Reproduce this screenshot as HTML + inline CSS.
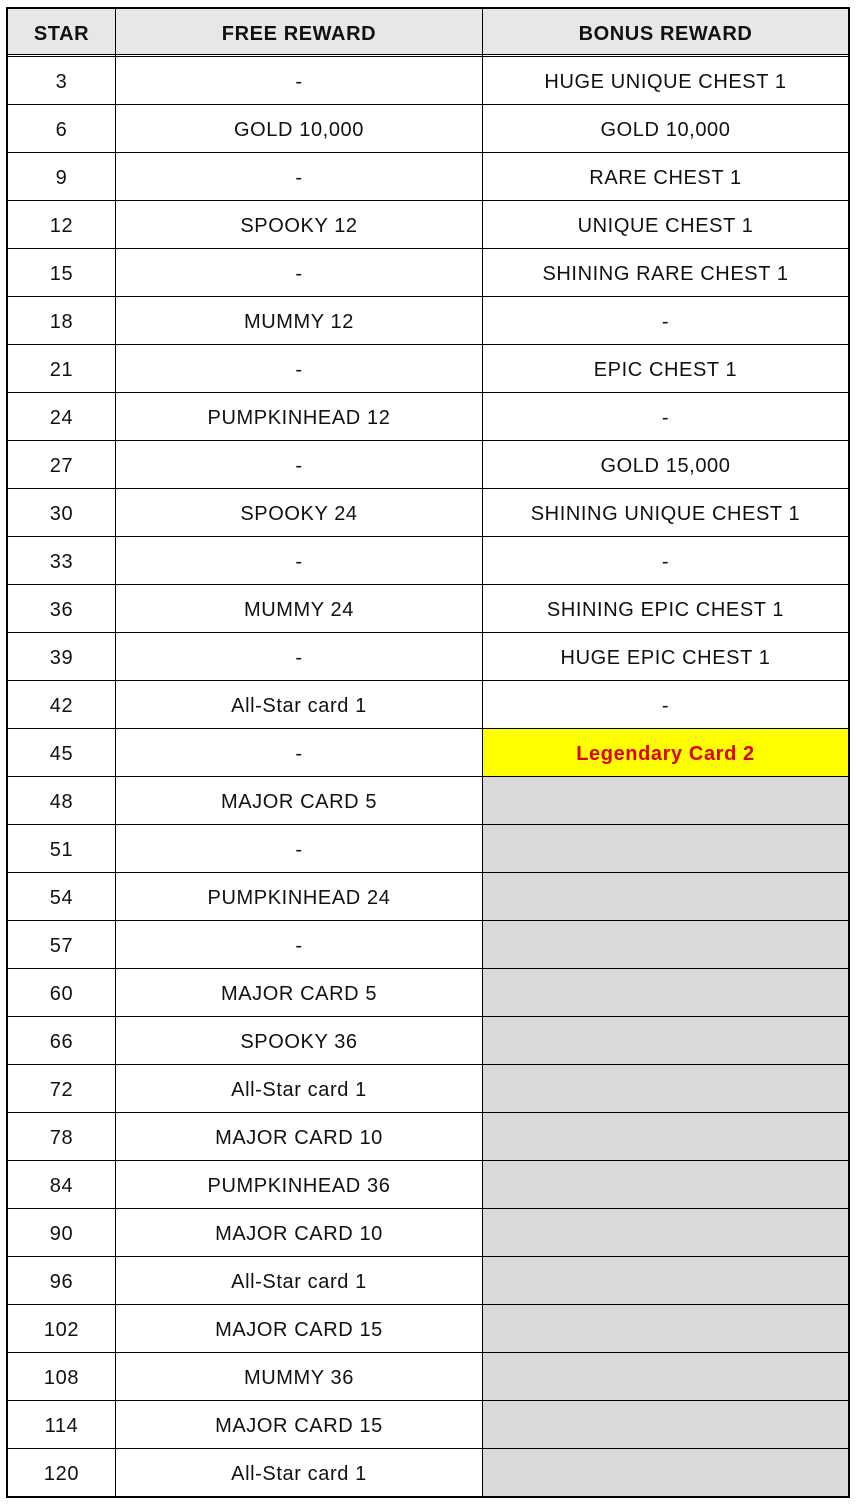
<!DOCTYPE html>
<html><head><meta charset="utf-8"><style>
body{margin:0;width:856px;height:1504px;background:#fff;position:relative;font-family:"Liberation Sans","Noto Sans CJK KR",sans-serif;overflow:hidden}
.t{position:absolute;left:6px;top:7px;width:840px;height:1487px;border:2px solid #000}
.c{position:absolute;display:flex;align-items:center;justify-content:center;font-size:20px;letter-spacing:0.6px;color:#111;box-sizing:border-box;padding-top:4px}
.hl{position:absolute;left:6px;width:844px;height:1px;background:#000}
.vl{position:absolute;top:7px;height:1490px;width:1px;background:#000}
</style></head><body>
<div id="g"></div>
<div class="t"></div>
<script>
var rows=[["3","-","HUGE UNIQUE CHEST 1"],["6","GOLD 10,000","GOLD 10,000"],["9","-","RARE CHEST 1"],["12","SPOOKY 12","UNIQUE CHEST 1"],["15","-","SHINING RARE CHEST 1"],["18","MUMMY 12","-"],["21","-","EPIC CHEST 1"],["24","PUMPKINHEAD 12","-"],["27","-","GOLD 15,000"],["30","SPOOKY 24","SHINING UNIQUE CHEST 1"],["33","-","-"],["36","MUMMY 24","SHINING EPIC CHEST 1"],["39","-","HUGE EPIC CHEST 1"],["42","All-Star card 1","-"],["45","-","L"],["48","MAJOR CARD 5",null],["51","-",null],["54","PUMPKINHEAD 24",null],["57","-",null],["60","MAJOR CARD 5",null],["66","SPOOKY 36",null],["72","All-Star card 1",null],["78","MAJOR CARD 10",null],["84","PUMPKINHEAD 36",null],["90","MAJOR CARD 10",null],["96","All-Star card 1",null],["102","MAJOR CARD 15",null],["108","MUMMY 36",null],["114","MAJOR CARD 15",null],["120","All-Star card 1",null]];
var X=[8,115,483,848],h="";
function cell(x0,x1,y,ht,txt,st){h+='<div class="c" style="left:'+x0+'px;width:'+(x1-x0)+'px;top:'+y+'px;height:'+ht+'px;'+(st||'')+'">'+txt+'</div>';}
["STAR","FREE REWARD","BONUS REWARD"].forEach(function(t,i){cell(X[i],X[i+1],9,46,t,"background:#e7e7e7;font-weight:bold;");});
rows.forEach(function(r,k){var y=57+48*k;
cell(X[0],X[1],y,47,r[0]);cell(X[1],X[2],y,47,r[1]);
if(r[2]==="L")cell(X[2],X[3],y,47,"Legendary Card 2","background:#ffff00;color:#e00000;font-weight:bold;");
else if(r[2]===null)cell(X[2],X[3],y,47,"","background:#d9d9d9;");
else cell(X[2],X[3],y,47,r[2]);});
h+='<div class="hl" style="top:54px"></div><div class="hl" style="top:56px"></div>';
for(var k=1;k<30;k++)h+='<div class="hl" style="top:'+(56+48*k)+'px"></div>';
h+='<div class="vl" style="left:115px"></div><div class="vl" style="left:482px"></div>';
document.getElementById("g").innerHTML=h;
</script>
</body></html>
